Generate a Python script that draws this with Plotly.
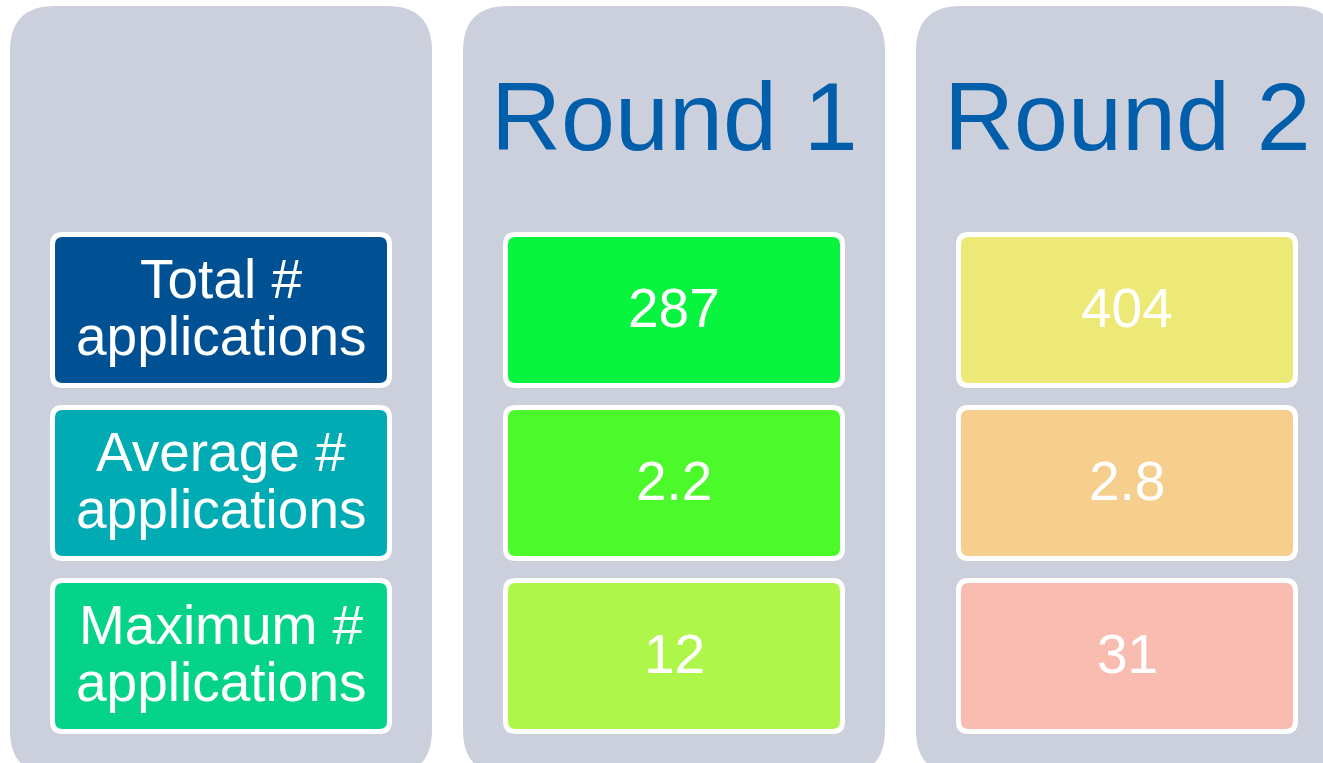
import plotly.graph_objects as go

# ---- data ----
row_labels = [["Total #", "applications"],
              ["Average #", "applications"],
              ["Maximum #", "applications"]]
rounds = ["Round 1", "Round 2"]
round1_values = ["287", "2.2", "12"]
round2_values = ["404", "2.8", "31"]

# ---- styles ----
panel_color = "rgb(204,208,221)"
title_color = "rgb(0,94,170)"
label_colors = ["rgb(0,81,147)", "rgb(0,171,180)", "rgb(5,211,137)"]
round_colors = [
    ["rgb(8,244,62)", "rgb(76,249,43)", "rgb(175,246,75)"],
    ["rgb(236,233,119)", "rgb(246,206,141)", "rgb(248,189,176)"],
]
FONT = "Liberation Sans, Arial, sans-serif"

W, H = 1323, 763
panel_left0, panel_pitch, panel_w = 10, 453, 422
panel_top, panel_bottom, panel_r = 6, 775, 45
box_inset, box_w = 42.5, 337
row_tops = [234.5, 407.5, 580.5]
box_h = 151
box_r = 10


def rrect(x0, y0, x1, y1, r):
    return (f"M {x0+r},{y0} L {x1-r},{y0} Q {x1},{y0} {x1},{y0+r} "
            f"L {x1},{y1-r} Q {x1},{y1} {x1-r},{y1} L {x0+r},{y1} "
            f"Q {x0},{y1} {x0},{y1-r} L {x0},{y0+r} Q {x0},{y0} {x0+r},{y0} Z")


fig = go.Figure()
shapes = []
annotations = []

columns = [None] + rounds
values = [None, round1_values, round2_values]

for c in range(3):
    px0 = panel_left0 + c * panel_pitch
    px1 = px0 + panel_w
    shapes.append(dict(type="path", path=rrect(px0, panel_top, px1, panel_bottom, panel_r),
                       fillcolor=panel_color, line=dict(width=0), layer="below",
                       xref="x", yref="y"))
    cx = (px0 + px1) / 2
    if columns[c] is not None:
        annotations.append(dict(x=cx, y=116, xref="x", yref="y", text=columns[c],
                                showarrow=False, xanchor="center", yanchor="middle",
                                font=dict(family=FONT, size=97, color=title_color)))
    for r in range(3):
        bx0 = px0 + box_inset
        bx1 = bx0 + box_w
        by0 = row_tops[r]
        by1 = by0 + box_h
        fill = label_colors[r] if c == 0 else round_colors[c - 1][r]
        shapes.append(dict(type="path", path=rrect(bx0, by0, bx1, by1, box_r),
                           fillcolor=fill, line=dict(color="white", width=5),
                           xref="x", yref="y"))
        bcy = (by0 + by1) / 2
        if c == 0:
            for k, (line_txt, off) in enumerate(zip(row_labels[r], [-31, 26])):
                annotations.append(dict(x=cx, y=bcy + off, xref="x", yref="y",
                                        text=line_txt, showarrow=False,
                                        xanchor="center", yanchor="middle",
                                        font=dict(family=FONT, size=55, color="white")))
        else:
            annotations.append(dict(x=cx, y=bcy - 2, xref="x", yref="y",
                                    text=values[c][r], showarrow=False,
                                    xanchor="center", yanchor="middle",
                                    font=dict(family=FONT, size=55, color="white")))

fig.update_layout(
    width=W, height=H,
    margin=dict(l=0, r=0, t=0, b=0),
    paper_bgcolor="white", plot_bgcolor="white",
    xaxis=dict(range=[0, W], visible=False, fixedrange=True),
    yaxis=dict(range=[H, 0], visible=False, fixedrange=True),
    shapes=shapes, annotations=annotations,
    showlegend=False, hovermode=False,
)
fig.write_html(
    "out.html",
    config={"displayModeBar": False},
    post_script="document.body.style.margin='0';document.body.style.overflow='hidden';",
)
